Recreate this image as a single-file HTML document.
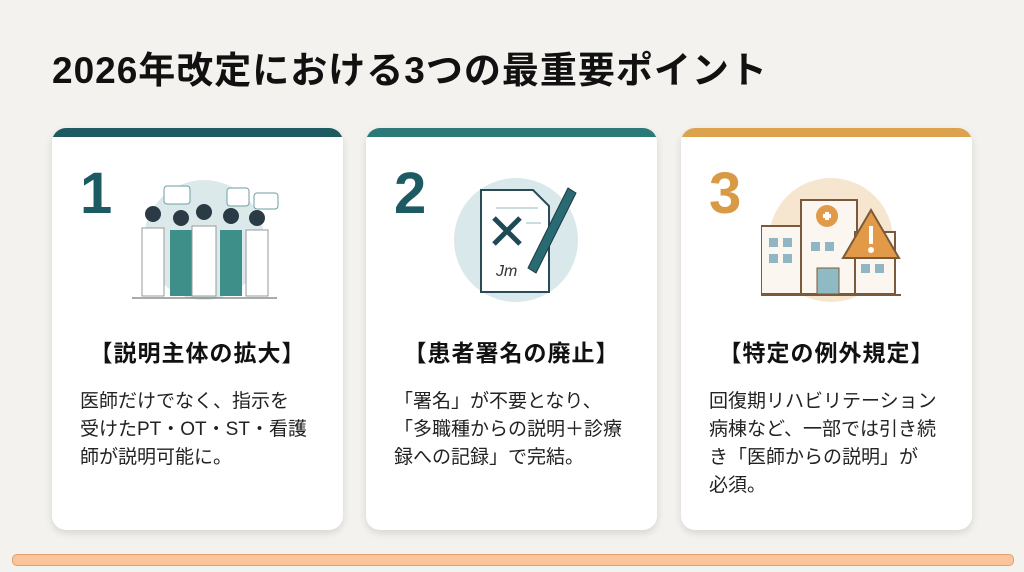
<!DOCTYPE html>
<html><head><meta charset="utf-8"><style>
body{margin:0;width:1024px;height:572px;background:#f3f2ee;font-family:"Liberation Sans","Noto Sans CJK JP",sans-serif;position:relative;overflow:hidden}
h1{position:absolute;left:52px;top:40px;margin:0;font-size:37px;font-weight:bold;color:#111;letter-spacing:1px;font-family:"Liberation Sans","Noto Sans CJK JP",sans-serif}
.card{position:absolute;top:128px;width:291px;height:402px;background:#fff;border-radius:14px;box-shadow:0 3px 8px rgba(0,0,0,0.12);overflow:hidden}
.bar{height:9px}
.num{position:absolute;left:28px;top:32px;font-size:58px;font-weight:bold}
.ill{position:absolute;left:80px;top:40px}
.hd{position:absolute;left:0;right:0;top:206px;text-align:center;font-size:23px;font-weight:bold;color:#111;letter-spacing:1px}
.tx{position:absolute;left:28px;top:260px;font-size:19px;line-height:28px;color:#222;white-space:nowrap}
.bot{position:absolute;left:12px;top:554px;width:1000px;height:10px;background:#fbc49a;border:1px solid #e0a070;border-radius:5px}
</style></head><body>
<h1>2026年改定における3つの最重要ポイント</h1>

<div class="card" style="left:52px">
<div class="bar" style="background:#1d5a62"></div>
<div class="num" style="color:#1d5a62">1</div>
<svg class="ill" width="150" height="140" viewBox="0 0 150 140">
<circle cx="72" cy="72" r="60" fill="#dce9ea"/>
<rect x="32" y="18" width="26" height="18" rx="3" fill="#fff" stroke="#6e9ea3"/>
<rect x="95" y="20" width="22" height="18" rx="3" fill="#fff" stroke="#6e9ea3"/>
<rect x="122" y="25" width="24" height="16" rx="3" fill="#fff" stroke="#6e9ea3"/>
<g fill="#3e8f8a">
<rect x="10" y="60" width="22" height="68" fill="#fff" stroke="#999"/><rect x="38" y="62" width="22" height="66"/><rect x="60" y="58" width="24" height="70" fill="#fff" stroke="#999"/><rect x="88" y="62" width="22" height="66"/><rect x="114" y="62" width="22" height="66" fill="#fff" stroke="#999"/>
</g>
<g fill="#2a3b45"><circle cx="21" cy="46" r="8"/><circle cx="49" cy="50" r="8"/><circle cx="72" cy="44" r="8"/><circle cx="99" cy="48" r="8"/><circle cx="125" cy="50" r="8"/></g>
<line x1="0" y1="130" x2="145" y2="130" stroke="#555"/>
</svg>
<div class="hd">【説明主体の拡大】</div>
<div class="tx">医師だけでなく、指示を<br>受けたPT・OT・ST・看護<br>師が説明可能に。</div>
</div>

<div class="card" style="left:366px">
<div class="bar" style="background:#2b7a78"></div>
<div class="num" style="color:#1d5a62">2</div>
<svg class="ill" width="150" height="140" viewBox="0 0 150 140">
<circle cx="70" cy="72" r="62" fill="#d9e8ea"/>
<path d="M35 22h52l16 16v86H35z" fill="#fff" stroke="#2a4a55" stroke-width="2"/>
<path d="M48 50l26 26M74 50L48 76" stroke="#1d4a55" stroke-width="5"/>
<line x1="50" y1="40" x2="92" y2="40" stroke="#9bb"/><line x1="80" y1="55" x2="95" y2="55" stroke="#9bb"/>
<path d="M82 100l40-80 8 5-40 80z" fill="#2a6a72" stroke="#1d3a45"/>
<text x="50" y="108" font-size="16" font-style="italic" fill="#333">Jm</text>
</svg>
<div class="hd">【患者署名の廃止】</div>
<div class="tx">「署名」が不要となり、<br>「多職種からの説明＋診療<br>録への記録」で完結。</div>
</div>

<div class="card" style="left:681px">
<div class="bar" style="background:#dda24e"></div>
<div class="num" style="color:#d99a45">3</div>
<svg class="ill" width="150" height="140" viewBox="0 0 150 140">
<circle cx="70" cy="72" r="62" fill="#f7e6cf"/>
<rect x="0" y="58" width="42" height="68" fill="#fbf7f0" stroke="#7a5a3a" stroke-width="2"/>
<rect x="40" y="32" width="56" height="94" fill="#fbf7f0" stroke="#7a5a3a" stroke-width="2"/>
<rect x="94" y="64" width="40" height="62" fill="#fbf7f0" stroke="#7a5a3a" stroke-width="2"/>
<g fill="#8fb6c2"><rect x="8" y="70" width="9" height="9"/><rect x="22" y="70" width="9" height="9"/><rect x="8" y="86" width="9" height="9"/><rect x="22" y="86" width="9" height="9"/><rect x="50" y="74" width="9" height="9"/><rect x="64" y="74" width="9" height="9"/><rect x="100" y="96" width="9" height="9"/><rect x="114" y="96" width="9" height="9"/></g>
<circle cx="66" cy="48" r="11" fill="#e09a4a"/>
<path d="M62 48h8M66 44v8" stroke="#fff" stroke-width="4"/>
<rect x="56" y="100" width="22" height="26" fill="#8fbac4" stroke="#7a5a3a"/>
<path d="M110 42l28 48h-56z" fill="#e39a48" stroke="#7a5a3a" stroke-width="2"/>
<rect x="108" y="58" width="4" height="18" fill="#fff"/><circle cx="110" cy="82" r="3" fill="#fff"/>
<line x1="-5" y1="127" x2="140" y2="127" stroke="#7a5a3a" stroke-width="2"/>
</svg>
<div class="hd">【特定の例外規定】</div>
<div class="tx">回復期リハビリテーション<br>病棟など、一部では引き続<br>き「医師からの説明」が<br>必須。</div>
</div>

<div class="bot"></div>
</body></html>
